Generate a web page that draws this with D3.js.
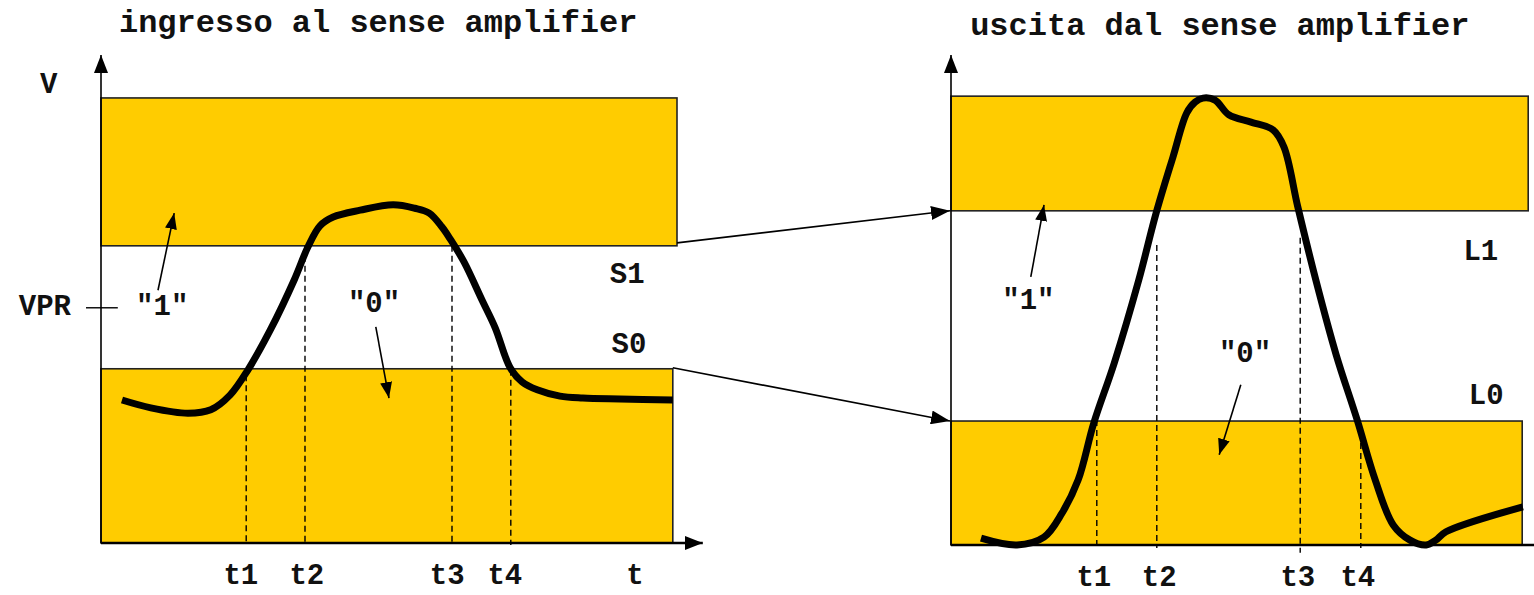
<!DOCTYPE html>
<html>
<head>
<meta charset="utf-8">
<script src="https://cdn.jsdelivr.net/npm/d3@7"></script>
<style>
  body { margin: 0; background: #fff; }
  text { font-family: "Liberation Mono", "Courier New", monospace; font-weight: bold; fill: #111; }
</style>
</head>
<body>
<svg id="chart" width="1534" height="595"></svg>
<script>
////////////////////////////////////////////////////////////////////////
// Data (time and voltage in arbitrary units, 0..10 on both axes)

// waveform at the sense amplifier input
let inTime = [0.35, 0.83, 1.45, 1.83, 2.15, 2.45, 2.82, 3.22, 3.45, 3.65, 3.87, 4.32, 4.87, 5.23, 5.47, 5.68, 5.83, 6.05, 6.35, 6.57, 6.82, 7.02, 7.27, 7.65, 8.03, 8.65, 9.53];
let inVolt = [2.93, 2.77, 2.66, 2.73, 3.03, 3.55, 4.36, 5.39, 6.07, 6.50, 6.68, 6.82, 6.93, 6.86, 6.76, 6.48, 6.21, 5.76, 4.98, 4.41, 3.59, 3.30, 3.14, 3.01, 2.97, 2.95, 2.93];

// waveform at the sense amplifier output
let outTime = [0.5, 1.1, 1.55, 1.85, 2.12, 2.38, 2.72, 3.13, 3.42, 3.7, 3.93, 4.07, 4.2, 4.4, 4.63, 5.0, 5.37, 5.55, 5.78, 6.08, 6.42, 6.77, 7.07, 7.37, 7.65, 7.92, 8.08, 8.25, 9.53];
let outVolt = [0.14, 0.0, 0.16, 0.65, 1.33, 2.49, 3.71, 5.41, 6.78, 7.92, 8.82, 9.04, 9.12, 9.08, 8.78, 8.63, 8.47, 8.12, 6.90, 5.41, 3.88, 2.55, 1.33, 0.41, 0.10, 0.0, 0.10, 0.27, 0.78];

// "1" and "0" bands (bottom, top, end time)
let inBandBottom = [6.09, 0];
let inBandTop = [9.12, 3.57];
let inBandEnd = [9.6, 9.53];
let outBandBottom = [6.82, 0];
let outBandTop = [9.16, 2.53];
let outBandEnd = [9.62, 9.52];

// threshold labels
let inLevelNames = ["S1", "S0"];
let outLevelNames = ["L1", "L0"];
let vprLevel = 4.82;

// crossing times t1..t4
let tNames = ["t1", "t2", "t3", "t4"];
let inTimes = [2.42, 3.4, 5.85, 6.83];
let inDashTop = [3.44, 6.09, 6.09, 3.55];
let inDashBottom = [-0.04, -0.04, -0.04, -0.04];
let outTimes = [2.43, 3.43, 5.82, 6.83];
let outDashTop = [2.55, 6.12, 6.27, 2.08];
let outDashBottom = [-0.06, -0.06, -0.16, -0.06];

let yellow = "#FFCC00";

let svg = d3.select("#chart");

// arrowhead markers
let defs = svg.append("defs");
function addMarker(id, len, half) {
  defs.append("marker")
    .attr("id", id)
    .attr("viewBox", "0 " + (-half) + " " + len + " " + (2 * half))
    .attr("refX", len).attr("refY", 0)
    .attr("markerUnits", "userSpaceOnUse")
    .attr("markerWidth", len).attr("markerHeight", 2 * half)
    .attr("orient", "auto")
    .append("path")
    .attr("d", "M0," + (-half) + "L" + len + ",0L0," + half + "Z")
    .attr("fill", "#000");
}
addMarker("axisHead", 18, 7);
addMarker("linkHead", 19, 7);
addMarker("noteHead", 16, 6);

/**
 * Draws one panel: bands, axes, dashed time markers and the waveform.
 * Returns its scales so the link arrows can join the two panels.
 */
function makePanel(x0, yBottom, time, volt, bandBottom, bandTop, bandEnd, times, dashTop, dashBottom, xAxisEnd, withArrow)
{
  let xScale = d3.scaleLinear().domain([0, 10]).range([x0, x0 + 600]);
  let yScale = d3.scaleLinear().domain([0, 10]).range([yBottom, 55]);

  let g = svg.append("g");

  // yellow bands
  g.selectAll("rect.band")
    .data(d3.range(bandBottom.length))
    .enter()
    .append("rect")
    .attr("class", "band")
    .attr("x", xScale(0))
    .attr("y", function(i) { return yScale(bandTop[i]); })
    .attr("width", function(i) { return xScale(bandEnd[i]) - xScale(0); })
    .attr("height", function(i) { return yScale(bandBottom[i]) - yScale(bandTop[i]); })
    .attr("fill", yellow)
    .attr("stroke", "#222")
    .attr("stroke-width", 1.6);

  // dashed lines at t1..t4
  g.selectAll("line.dash")
    .data(d3.range(times.length))
    .enter()
    .append("line")
    .attr("x1", function(i) { return xScale(times[i]); })
    .attr("x2", function(i) { return xScale(times[i]); })
    .attr("y1", function(i) { return yScale(dashTop[i]); })
    .attr("y2", function(i) { return yScale(dashBottom[i]); })
    .attr("stroke", "#000")
    .attr("stroke-width", 1.4)
    .attr("stroke-dasharray", "6,4");

  // axes
  g.append("line")
    .attr("x1", xScale(0)).attr("y1", yScale(0))
    .attr("x2", xScale(0)).attr("y2", yScale(10))
    .attr("stroke", "#000").attr("stroke-width", 1.6)
    .attr("marker-end", "url(#axisHead)");
  let xAxisLine = g.append("line")
    .attr("x1", xScale(0)).attr("y1", yScale(0))
    .attr("x2", xScale(xAxisEnd)).attr("y2", yScale(0))
    .attr("stroke", "#000").attr("stroke-width", 2.4);
  if (withArrow) xAxisLine.attr("marker-end", "url(#axisHead)");

  // waveform
  let line = d3.line()
    .x(function(i) { return xScale(time[i]); })
    .y(function(i) { return yScale(volt[i]); })
    .curve(d3.curveCatmullRom.alpha(0.5));
  g.append("path")
    .attr("d", line(d3.range(time.length)))
    .attr("fill", "none")
    .attr("stroke", "#000")
    .attr("stroke-width", 7)
    .attr("stroke-linecap", "butt")
    .attr("stroke-linejoin", "round");

  return { g: g, xScale: xScale, yScale: yScale };
}

function label(p, x, y, txt, anchor, size) {
  p.g.append("text")
    .attr("x", p.xScale(x))
    .attr("y", p.yScale(y))
    .attr("text-anchor", anchor || "middle")
    .attr("font-size", size || 29)
    .text(txt);
}

function note(p, x1, y1, x2, y2) {
  p.g.append("line")
    .attr("x1", p.xScale(x1)).attr("y1", p.yScale(y1))
    .attr("x2", p.xScale(x2)).attr("y2", p.yScale(y2))
    .attr("stroke", "#000").attr("stroke-width", 1.6)
    .attr("marker-end", "url(#noteHead)");
}

////////////////////////////////////////////////////////////////////////
// Left panel: sense amplifier input

let left = makePanel(101, 543, inTime, inVolt, inBandBottom, inBandTop, inBandEnd,
                     inTimes, inDashTop, inDashBottom, 10.03, true);
label(left, 4.62, 10.47, "ingresso al sense amplifier", "middle", 32);
label(left, -0.87, 9.22, "V");
label(left, -0.5, 4.67, "VPR", "end");
left.g.append("line")
  .attr("x1", left.xScale(-0.25)).attr("x2", left.xScale(0.28))
  .attr("y1", left.yScale(vprLevel)).attr("y2", left.yScale(vprLevel))
  .attr("stroke", "#000").attr("stroke-width", 1.4);
label(left, 1.02, 4.67, "\"1\"");
note(left, 0.95, 5.18, 1.22, 6.76);
label(left, 4.55, 4.73, "\"0\"");
note(left, 4.58, 4.43, 4.8, 2.97);
label(left, 8.77, 5.33, inLevelNames[0]);
label(left, 8.8, 3.89, inLevelNames[1]);
let inLabelX = [2.33, 3.43, 5.77, 6.73];
tNames.forEach(function(n, i) { label(left, inLabelX[i], -0.84, n); });
label(left, 8.9, -0.84, "t");

////////////////////////////////////////////////////////////////////////
// Right panel: sense amplifier output

let right = makePanel(951, 545, outTime, outVolt, outBandBottom, outBandTop, outBandEnd,
                      outTimes, outDashTop, outDashBottom, 9.9, false);
label(right, 4.48, 10.41, "uscita dal sense amplifier", "middle", 32);
label(right, 1.29, 4.82, "\"1\"");
note(right, 1.33, 5.47, 1.55, 6.94);
label(right, 4.9, 3.73, "\"0\"");
note(right, 4.83, 3.27, 4.47, 1.84);
label(right, 8.83, 5.82, outLevelNames[0]);
label(right, 8.92, 2.88, outLevelNames[1]);
let outLabelX = [2.38, 3.47, 5.78, 6.78];
tNames.forEach(function(n, i) { label(right, outLabelX[i], -0.84, n); });

////////////////////////////////////////////////////////////////////////
// Arrows mapping input thresholds to output levels

let links = [
  { from: [inBandEnd[0], inBandBottom[0] + 0.06], to: outBandBottom[0] },
  { from: [inBandEnd[1], inBandTop[1] + 0.02], to: outBandTop[1] }
];
links.forEach(function(l) {
  svg.append("line")
    .attr("x1", left.xScale(l.from[0])).attr("y1", left.yScale(l.from[1]))
    .attr("x2", right.xScale(0) - 1).attr("y2", right.yScale(l.to))
    .attr("stroke", "#000").attr("stroke-width", 1.6)
    .attr("marker-end", "url(#linkHead)");
});
</script>
</body>
</html>
